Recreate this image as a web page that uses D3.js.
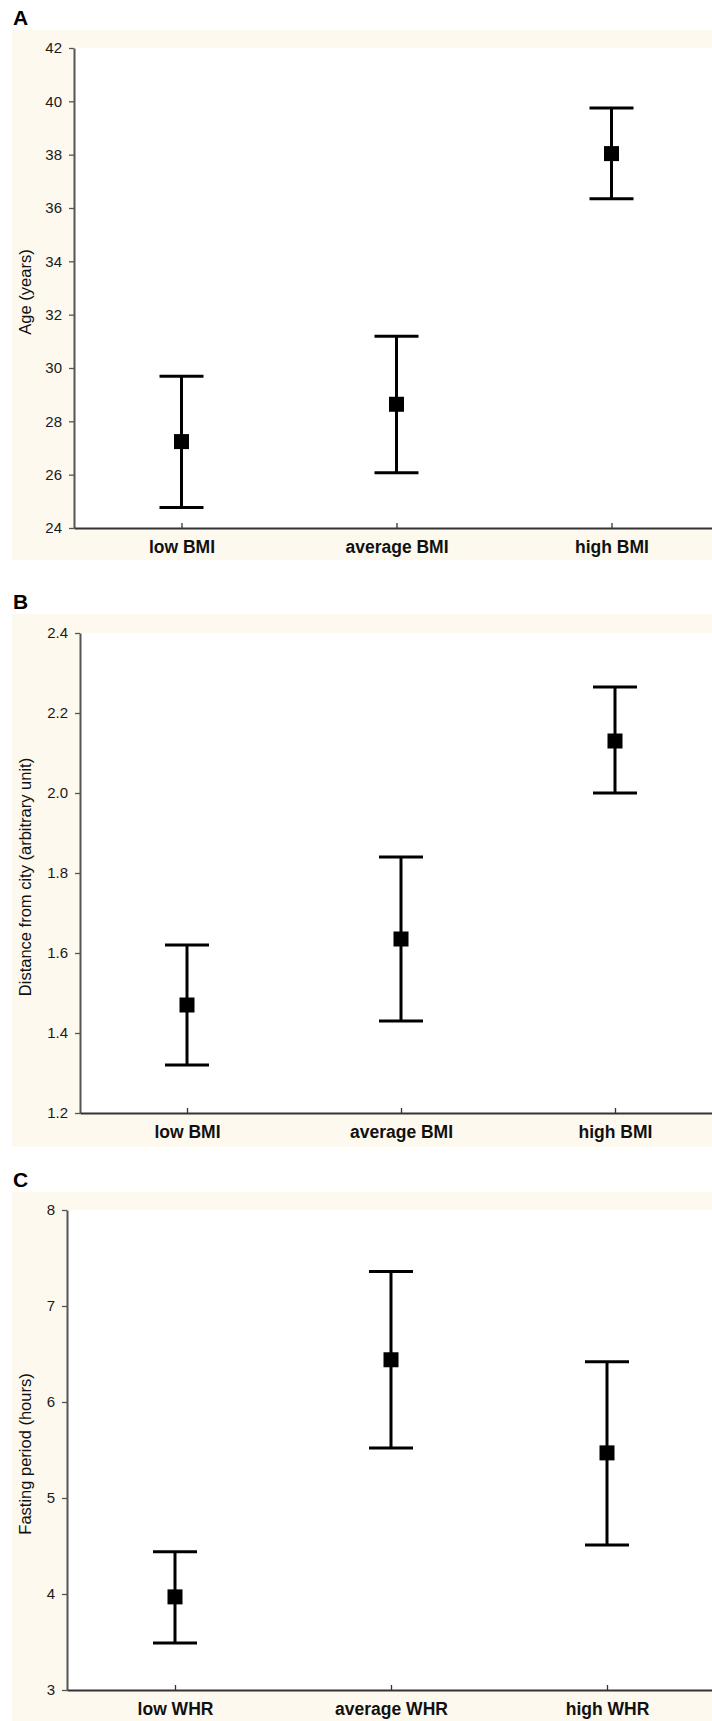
<!DOCTYPE html>
<html>
<head>
<meta charset="utf-8">
<script src="https://cdn.jsdelivr.net/npm/d3@7"></script>
<style>
  body { margin: 0; background: #fff; }
  svg { display: block; font-family: "Liberation Sans", Arial, sans-serif; }
</style>
</head>
<body>
<div id="chart"></div>
<script>
// panel A - age by BMI group
const catsA = ["low BMI", "average BMI", "high BMI"];
const meanA = [27.24, 28.64, 38.04];
const upperA = [29.69, 31.19, 39.75];
const lowerA = [24.77, 26.07, 36.35];
const ticksA = [24, 26, 28, 30, 32, 34, 36, 38, 40, 42];

// panel B - distance from city by BMI group
const catsB = ["low BMI", "average BMI", "high BMI"];
const meanB = [1.47, 1.635, 2.13];
const upperB = [1.62, 1.84, 2.265];
const lowerB = [1.32, 1.43, 2.0];
const ticksB = [1.2, 1.4, 1.6, 1.8, 2.0, 2.2, 2.4];

// panel C - fasting period by WHR group
const catsC = ["low WHR", "average WHR", "high WHR"];
const meanC = [3.97, 6.44, 5.47];
const upperC = [4.44, 7.36, 6.42];
const lowerC = [3.49, 5.52, 4.51];
const ticksC = [3, 4, 5, 6, 7, 8];

const width = 712, height = 1721;

const svg = d3.select("#chart").append("svg")
    .attr("width", width)
    .attr("height", height);

function drawPanel(p) {
    const g = svg.append("g");

    // cream frame + white plotting area
    g.append("rect")
        .attr("x", 12).attr("y", p.frameTop)
        .attr("width", width - 12).attr("height", p.frameBottom - p.frameTop)
        .attr("fill", "#fdf9ee");
    g.append("rect")
        .attr("x", p.left).attr("y", p.top)
        .attr("width", width - p.left).attr("height", p.bottom - p.top)
        .attr("fill", "#fff");

    g.append("text")
        .attr("x", 13).attr("y", p.frameTop - 5)
        .style("font-size", "21px").style("font-weight", "bold")
        .text(p.letter);

    const y = d3.scaleLinear().domain(p.domain).range([p.bottom, p.top]);
    const x = d3.scalePoint().domain(p.cats)
        .range([p.left, p.left + 3 * p.band]).padding(0.5);

    const yAxis = g.append("g")
        .attr("transform", `translate(${p.left},0)`)
        .call(d3.axisLeft(y).tickValues(p.ticks).tickSize(5).tickSizeOuter(0)
            .tickPadding(7).tickFormat(p.fmt));
    yAxis.select(".domain").attr("stroke", "#555").attr("stroke-width", 2);
    yAxis.selectAll(".tick line").attr("stroke", "#555").attr("stroke-width", 1.3);
    yAxis.selectAll(".tick text")
        .style("font-size", "15px").style("fill", "#1a1a1a");

    const xAxis = g.append("g")
        .attr("transform", `translate(0,${p.bottom})`)
        .call(d3.axisBottom(x).tickSize(-5).tickSizeOuter(0).tickPadding(13));
    xAxis.select(".domain").attr("stroke", "#333").attr("stroke-width", 2);
    xAxis.selectAll(".tick line").attr("stroke", "#333").attr("stroke-width", 1.3);
    xAxis.selectAll(".tick text")
        .style("font-size", "17.5px").style("font-weight", "bold").style("fill", "#111");

    g.append("text")
        .attr("transform", `translate(31,${(p.top + p.bottom) / 2 + 4}) rotate(-90)`)
        .attr("text-anchor", "middle")
        .style("font-size", "16.5px")
        .style("fill", "#111")
        .text(p.title);

    const rows = p.cats.map((c, i) => ({ c, m: p.mean[i], hi: p.upper[i], lo: p.lower[i] }));
    const bars = g.append("g").selectAll("g").data(rows).join("g")
        .attr("transform", d => `translate(${x(d.c)},0)`);

    bars.append("line")
        .attr("y1", d => y(d.hi)).attr("y2", d => y(d.lo))
        .attr("stroke", "#000").attr("stroke-width", 3);
    bars.append("line")
        .attr("x1", -22).attr("x2", 22)
        .attr("y1", d => y(d.hi)).attr("y2", d => y(d.hi))
        .attr("stroke", "#000").attr("stroke-width", 3);
    bars.append("line")
        .attr("x1", -22).attr("x2", 22)
        .attr("y1", d => y(d.lo)).attr("y2", d => y(d.lo))
        .attr("stroke", "#000").attr("stroke-width", 3);
    bars.append("rect")
        .attr("x", -7.5).attr("y", d => y(d.m) - 7.5)
        .attr("width", 15).attr("height", 15)
        .attr("fill", "#000");
}

drawPanel({
    letter: "A", title: "Age (years)",
    cats: catsA, mean: meanA, upper: upperA, lower: lowerA,
    ticks: ticksA, domain: [24, 42], fmt: d3.format("d"),
    frameTop: 30, frameBottom: 560, top: 48, bottom: 528, left: 74, band: 215
});

drawPanel({
    letter: "B", title: "Distance from city (arbitrary unit)",
    cats: catsB, mean: meanB, upper: upperB, lower: lowerB,
    ticks: ticksB, domain: [1.2, 2.4], fmt: d3.format(".1f"),
    frameTop: 614, frameBottom: 1147, top: 633, bottom: 1113, left: 80, band: 214
});

drawPanel({
    letter: "C", title: "Fasting period (hours)",
    cats: catsC, mean: meanC, upper: upperC, lower: lowerC,
    ticks: ticksC, domain: [3, 8], fmt: d3.format("d"),
    frameTop: 1192, frameBottom: 1721, top: 1210, bottom: 1690, left: 67, band: 216
});
</script>
</body>
</html>
